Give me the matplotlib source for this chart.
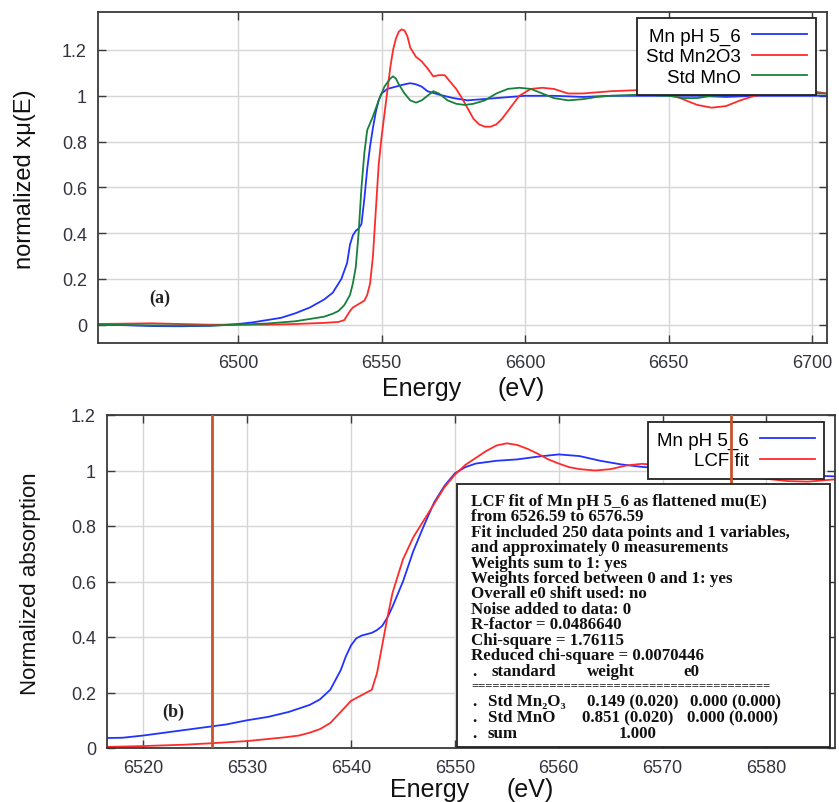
import matplotlib
matplotlib.use("Agg")
import matplotlib.pyplot as plt
from matplotlib.ticker import FuncFormatter
from matplotlib.patches import Rectangle

# ---------------- data: panel (a) ----------------
e_blue_a = [6451, 6460, 6470, 6480, 6490, 6500, 6505, 6510, 6515, 6520, 6525, 6530, 6533, 6536, 6538,
            6539, 6540, 6541, 6542, 6543, 6544, 6545, 6546, 6547, 6548, 6549, 6550, 6552, 6555, 6558,
            6560, 6562, 6564, 6566, 6570, 6575, 6580, 6585, 6590, 6600, 6610, 6620, 6630, 6640, 6650,
            6660, 6670, 6680, 6690, 6705]
mu_blue_a = [0.0, -0.002, -0.006, -0.007, -0.005, 0.003, 0.01, 0.02, 0.03, 0.05, 0.075, 0.11, 0.14, 0.2, 0.27,
             0.35, 0.39, 0.41, 0.42, 0.44, 0.55, 0.68, 0.78, 0.86, 0.93, 0.98, 1.01, 1.03, 1.04, 1.05,
             1.055, 1.05, 1.04, 1.02, 1.005, 0.99, 0.98, 0.985, 0.99, 1.0, 1.0, 0.995, 1.0, 1.0, 1.0,
             1.0, 0.995, 1.0, 1.0, 1.0]

e_red_a = [6451, 6470, 6490, 6500, 6510, 6520, 6530, 6535, 6537, 6538, 6539, 6540, 6542, 6544, 6545,
           6546, 6547, 6548, 6549, 6550, 6551, 6552, 6553, 6554, 6555, 6556, 6557, 6558, 6559, 6560,
           6562, 6564, 6566, 6568, 6570, 6572, 6574, 6576, 6578, 6580, 6582, 6584, 6586, 6588, 6590,
           6592, 6595, 6598, 6602, 6606, 6610, 6615, 6620, 6625, 6630, 6640, 6645, 6650, 6655, 6660,
           6665, 6670, 6675, 6680, 6690, 6700, 6705]
mu_red_a = [0.003, 0.006, 0.0, 0.0, 0.0, 0.003, 0.008, 0.012, 0.02, 0.04, 0.06, 0.075, 0.09, 0.105, 0.13,
            0.18, 0.3, 0.5, 0.7, 0.82, 0.92, 1.02, 1.12, 1.2, 1.25, 1.28, 1.29, 1.285, 1.26, 1.21,
            1.17, 1.15, 1.12, 1.085, 1.09, 1.09, 1.06, 1.03, 0.99, 0.945, 0.9, 0.875, 0.865, 0.865, 0.875,
            0.9, 0.95, 1.0, 1.03, 1.035, 1.03, 1.01, 1.01, 1.015, 1.02, 1.025, 1.02, 1.01, 0.985, 0.96,
            0.948, 0.955, 0.98, 1.0, 1.015, 1.02, 1.01]

e_green_a = [6451, 6470, 6490, 6500, 6510, 6520, 6525, 6530, 6533, 6535, 6537, 6539, 6540, 6541, 6542,
             6543, 6544, 6545, 6547, 6549, 6551, 6553, 6554, 6555, 6556, 6558, 6560, 6562, 6564, 6566,
             6568, 6570, 6573, 6576, 6579, 6582, 6586, 6590, 6594, 6598, 6602, 6606, 6610, 6615, 6620,
             6625, 6630, 6640, 6650, 6655, 6660, 6665, 6675, 6690, 6705]
mu_green_a = [0.0, -0.003, -0.004, 0.0, 0.005, 0.015, 0.025, 0.035, 0.048, 0.06, 0.085, 0.13, 0.18, 0.25, 0.4,
              0.6, 0.75, 0.85, 0.91, 0.98, 1.04, 1.075, 1.085, 1.075, 1.05, 1.01, 0.98, 0.97, 0.98, 1.0,
              1.02, 1.01, 0.98, 0.965, 0.96, 0.965, 0.98, 1.01, 1.03, 1.035, 1.03, 1.01, 0.99, 0.98, 0.985,
              0.995, 1.0, 1.005, 1.0, 0.99, 0.99, 1.0, 1.005, 1.01, 1.01]

labels_a = ["Mn pH 5_6", "Std Mn2O3", "Std MnO"]

# ---------------- data: panel (b) ----------------
e_blue_b = [6516.5, 6518, 6520, 6522, 6524, 6526, 6528, 6530, 6532, 6534, 6536, 6537, 6538, 6539,
            6539.5, 6540, 6540.5, 6541, 6542, 6542.5, 6543, 6543.5, 6544, 6545, 6546, 6547, 6548, 6549,
            6550, 6551, 6552, 6554, 6556, 6558, 6560, 6562, 6564, 6566, 6568, 6570, 6572, 6575, 6578,
            6582, 6586.6]
mu_blue_b = [0.036, 0.037, 0.045, 0.055, 0.065, 0.075, 0.085, 0.1, 0.112, 0.13, 0.155, 0.175, 0.21, 0.28,
             0.33, 0.37, 0.395, 0.405, 0.415, 0.425, 0.44, 0.47, 0.51, 0.6, 0.71, 0.8, 0.885, 0.945,
             0.99, 1.012, 1.025, 1.035, 1.04, 1.05, 1.058, 1.052, 1.035, 1.022, 1.013, 1.008, 1.004, 0.999, 0.992,
             0.984, 0.979]

e_fit_b = [6516.5, 6520, 6524, 6526.5, 6530, 6533.5, 6535, 6536, 6537, 6538, 6539, 6540, 6541, 6542,
           6542.5, 6543, 6543.5, 6544, 6545, 6546, 6547, 6548, 6549, 6550, 6551, 6552, 6553, 6554, 6555,
           6556, 6557, 6558, 6559, 6560, 6561, 6562, 6563.5, 6565, 6566.5, 6568, 6569.5, 6571, 6573,
           6575.5, 6578.7, 6582, 6584, 6586.6]
mu_fit_b = [0.004, 0.007, 0.012, 0.017, 0.025, 0.038, 0.045, 0.055, 0.068, 0.09, 0.13, 0.17, 0.19, 0.21,
            0.27, 0.37, 0.47, 0.56, 0.68, 0.76, 0.82, 0.88, 0.94, 0.985, 1.02, 1.045, 1.07, 1.09, 1.098,
            1.092, 1.078, 1.06, 1.04, 1.025, 1.012, 1.005, 1.0, 1.005, 1.018, 1.024, 1.02, 1.008, 0.998,
            0.987, 0.975, 0.962, 0.96, 0.968]

labels_b = ["Mn pH 5_6", "LCF fit"]
fit_range = [6526.59, 6576.59]

box_lines = [
    "LCF fit of Mn pH 5_6 as flattened mu(E)",
    "from 6526.59 to 6576.59",
    "Fit included 250 data points and 1 variables,",
    "and approximately 0 measurements",
    "Weights sum to 1: yes",
    "Weights forced between 0 and 1: yes",
    "Overall e0 shift used: no",
    "Noise added to data: 0",
    "R-factor = 0.0486640",
    "Chi-square = 1.76115",
    "Reduced chi-square = 0.0070446",
]
table_header = [".", "standard", "weight", "e0"]
table_rows = [
    [".", "Std Mn\u2082O\u2083", "0.149 (0.020)", "0.000 (0.000)"],
    [".", "Std MnO", "0.851 (0.020)", "0.000 (0.000)"],
    [".", "sum", "1.000", ""],
]

# ---------------- figure ----------------
W, H = 839, 803
fig = plt.figure(figsize=(W / 100, H / 100), dpi=100)
SANS = ["Liberation Sans", "DejaVu Sans"]
SERIF = ["Liberation Serif", "DejaVu Serif"]


def fx(x):
    return x / W


def fy(y):
    return 1 - y / H


ax1 = fig.add_axes([fx(98), fy(344), (827 - 98) / W, (344 - 13) / H])
ax2 = fig.add_axes([fx(107), fy(749), (835 - 107) / W, (749 - 416) / H])

BLUE = "#2233ff"
RED = "#ff2b2b"
GREEN = "#18803a"

fmt = FuncFormatter(lambda v, p: f"{v:g}")
for ax in (ax1, ax2):
    ax.grid(True, color="#d6d6d6", lw=1.0)
    ax.set_axisbelow(True)
    for s in ax.spines.values():
        s.set_color("#3a3a3a")
        s.set_linewidth(1.3)
    ax.tick_params(direction="in", length=6, width=1.0, top=True, right=True,
                   color="#3a3a3a", labelcolor="#333340", labelsize=13, pad=8)
    ax.yaxis.set_major_formatter(fmt)
    ax.xaxis.set_major_formatter(fmt)

LEG = dict(loc="upper right", bbox_transform=fig.transFigure, borderaxespad=0, fancybox=False,
           framealpha=1, edgecolor="#222222", markerfirst=False, handlelength=2.9, handletextpad=0.6,
           labelspacing=0.18, borderpad=0.5, prop={"family": SANS, "size": 13.5})

# panel (a)
l1, = ax1.plot(e_blue_a, mu_blue_a, color=BLUE, lw=1.3)
l2, = ax1.plot(e_red_a, mu_red_a, color=RED, lw=1.3)
l3, = ax1.plot(e_green_a, mu_green_a, color=GREEN, lw=1.3)
ax1.set_xlim(6451.2, 6705.2)
ax1.set_ylim(-0.08, 1.366)
ax1.set_xticks([6500, 6550, 6600, 6650, 6700])
ax1.set_yticks([0, 0.2, 0.4, 0.6, 0.8, 1.0, 1.2])
leg1 = ax1.legend([l1, l2, l3], labels_a, bbox_to_anchor=(fx(816), fy(19)), **LEG)
leg1.get_frame().set_linewidth(1.3)
ax1.text(6472.8, 0.12, "(a)", family=SERIF, weight="bold", fontsize=13,
         ha="center", va="center", color="#222222")

# panel (b)
m1, = ax2.plot(e_blue_b, mu_blue_b, color=BLUE, lw=1.3)
m2, = ax2.plot(e_fit_b, mu_fit_b, color=RED, lw=1.3)
for xv in fit_range:
    ax2.axvline(xv, color="#c8532e", lw=2, zorder=6)
ax2.set_xlim(6516.5, 6586.6)
ax2.set_ylim(0, 1.2)
ax2.set_xticks([6520, 6530, 6540, 6550, 6560, 6570, 6580])
ax2.set_yticks([0, 0.2, 0.4, 0.6, 0.8, 1.0, 1.2])
leg2 = ax2.legend([m1, m2], labels_b, bbox_to_anchor=(fx(824), fy(423)), **LEG)
leg2.get_frame().set_linewidth(1.3)
ax2.text(6522.9, 0.133, "(b)", family=SERIF, weight="bold", fontsize=13,
         ha="center", va="center", color="#222222")

for ax in (ax1, ax2):
    for lab in ax.get_xticklabels() + ax.get_yticklabels():
        lab.set_family(SANS)

# axis labels
fig.text(fx(25), fy(179), "normalized x\u03bc(E)", rotation=90, ha="center", va="center",
         family=SANS, fontsize=17, color="#111111")
fig.text(fx(31), fy(584), "Normalized absorption", rotation=90, ha="center", va="center",
         family=SANS, fontsize=16, color="#111111")
fig.text(fx(422), fy(396), "Energy", ha="center", va="baseline", family=SANS, fontsize=18, color="#111111")
fig.text(fx(521), fy(396), "(eV)", ha="center", va="baseline", family=SANS, fontsize=18, color="#111111")
fig.text(fx(430), fy(797), "Energy", ha="center", va="baseline", family=SANS, fontsize=18, color="#111111")
fig.text(fx(530), fy(797), "(eV)", ha="center", va="baseline", family=SANS, fontsize=18, color="#111111")

# LCF text box
box = Rectangle((fx(457), fy(748)), (830 - 457) / W, (748 - 485) / H, transform=fig.transFigure,
                facecolor="white", edgecolor="#222222", lw=1.3, zorder=10)
fig.patches.append(box)
TXT = dict(family=SERIF, weight="bold", fontsize=12.2, va="center", ha="left", color="#111111", zorder=11)
y0, dy = 501.7, 15.45
for i, line in enumerate(box_lines):
    fig.text(fx(471), fy(y0 + i * dy), line, **TXT)
col_x = [472.7, 492, 586.7, 683]
for x, t in zip(col_x, table_header):
    fig.text(fx(x), fy(671.8), t, **TXT)
fig.text(fx(471), fy(686.5), "=" * 42, family=SERIF, weight="bold", fontsize=9,
         va="center", ha="left", color="#111111", zorder=11)
row_y = [702, 718, 734]
row_x = [[472.7, 488, 586.7, 690], [472.7, 488, 581.7, 686.7], [472.7, 488, 618.3, 690]]
for yy, xs, row in zip(row_y, row_x, table_rows):
    for x, t in zip(xs, row):
        if t:
            fig.text(fx(x), fy(yy), t, **TXT)

fig.savefig("out.png", dpi=100)
